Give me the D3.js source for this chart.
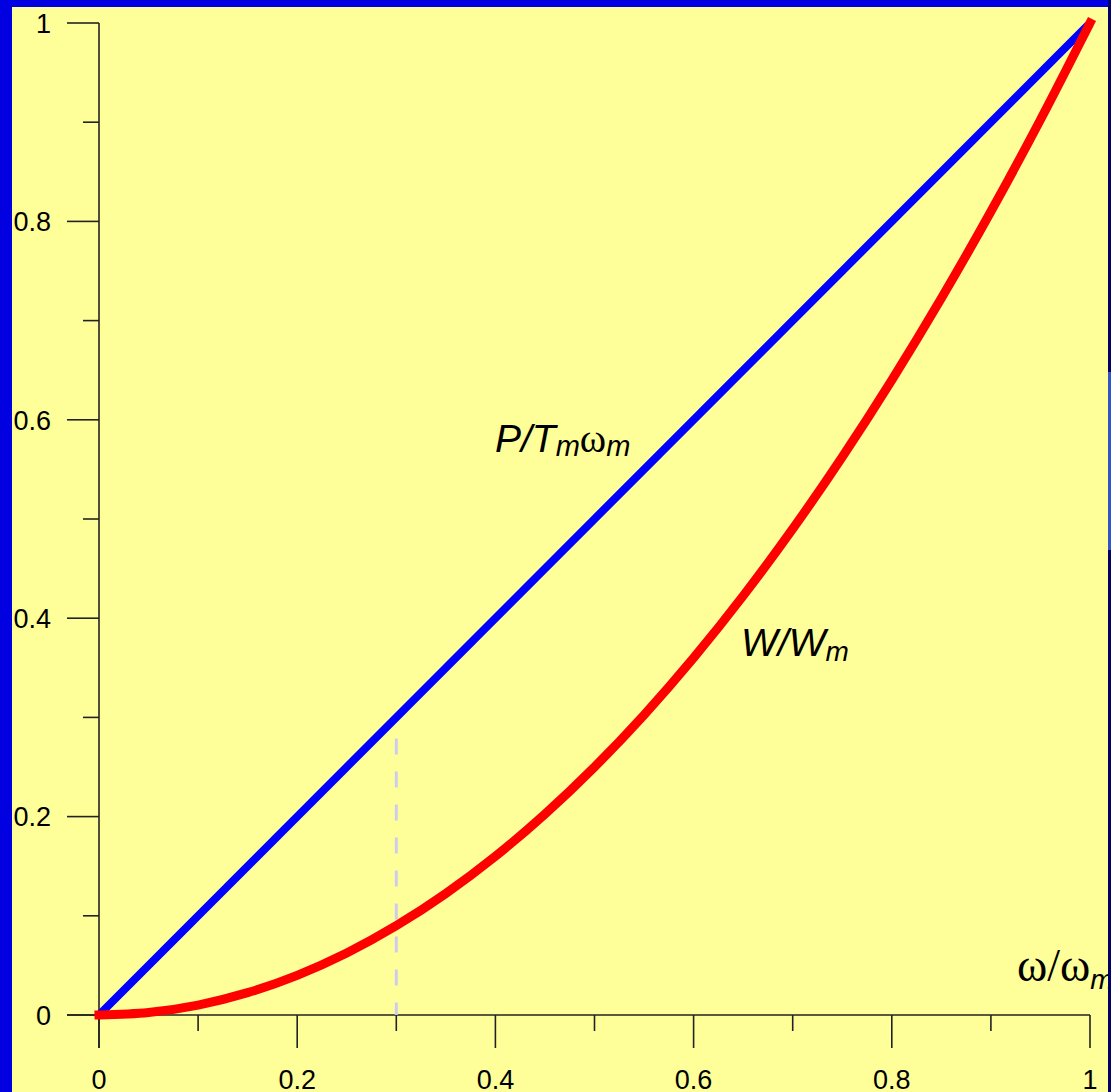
<!DOCTYPE html>
<html><head><meta charset="utf-8">
<script src="https://cdn.jsdelivr.net/npm/d3@7"></script>
<style>body{margin:0;background:#ffff99;overflow:hidden}svg{display:block}</style>
</head><body>
<script>
const xTicks = [0, 0.2, 0.4, 0.6, 0.8, 1];
const yTicks = [0, 0.2, 0.4, 0.6, 0.8, 1];
const minorTicks = [0.1, 0.3, 0.5, 0.7, 0.9];
const tickLabels = ["0", "0.2", "0.4", "0.6", "0.8", "1"];
const powerX = [0, 1];
const powerY = [0, 1];
const energyX = [0, 0.05, 0.1, 0.15, 0.2, 0.25, 0.3, 0.35, 0.4, 0.45, 0.5, 0.55, 0.6, 0.65, 0.7, 0.75, 0.8, 0.85, 0.9, 0.95, 1];
const energyY = [0, 0.0025, 0.01, 0.0225, 0.04, 0.0625, 0.09, 0.1225, 0.16, 0.2025, 0.25, 0.3025, 0.36, 0.4225, 0.49, 0.5625, 0.64, 0.7225, 0.81, 0.9025, 1];
const markerX = 0.3;

const W = 1111, H = 1092;
const svg = d3.select("body").append("svg").attr("width", W).attr("height", H);
svg.append("rect").attr("width", W).attr("height", H).attr("fill", "#ffff99");

const x = d3.scaleLinear().domain([0, 1]).range([99, 1090]);
const y = d3.scaleLinear().domain([0, 1]).range([1015, 23]);

// axes
const ax = svg.append("g").attr("stroke", "#222").attr("stroke-width", 1.6);
ax.append("line").attr("x1", x(0)).attr("x2", x(0)).attr("y1", y(1)).attr("y2", y(0) + 33);
ax.append("line").attr("x1", x(0) - 32).attr("x2", x(1)).attr("y1", y(0)).attr("y2", y(0));
yTicks.forEach(v => ax.append("line").attr("x1", x(0) - 32).attr("x2", x(0)).attr("y1", y(v)).attr("y2", y(v)));
minorTicks.forEach(v => ax.append("line").attr("x1", x(0) - 16).attr("x2", x(0)).attr("y1", y(v)).attr("y2", y(v)));
xTicks.forEach(v => ax.append("line").attr("x1", x(v)).attr("x2", x(v)).attr("y1", y(0)).attr("y2", y(0) + 33));
minorTicks.forEach(v => ax.append("line").attr("x1", x(v)).attr("x2", x(v)).attr("y1", y(0)).attr("y2", y(0) + 16));

const lab = svg.append("g").attr("font-family", "Liberation Sans, Arial, sans-serif").attr("font-size", 27).attr("fill", "#000");
yTicks.forEach((v, i) => lab.append("text").attr("x", 51).attr("y", y(v)).attr("dy", "0.36em").attr("text-anchor", "end").text(tickLabels[i]));
xTicks.forEach((v, i) => lab.append("text").attr("x", x(v)).attr("y", 1089).attr("text-anchor", "middle").text(tickLabels[i]));

// dashed marker
const mk = svg.append("g").attr("stroke", "#ccccee").attr("stroke-width", 3);
mk.append("line").attr("x1", x(markerX)).attr("x2", x(markerX)).attr("y1", y(markerX) + 2).attr("y2", y(markerX) + 4);
mk.append("line").attr("x1", x(markerX)).attr("x2", x(markerX)).attr("y1", y(markerX) + 21).attr("y2", y(0))
  .attr("stroke-dasharray", "16 17");

const line = d3.line().x(d => x(d[0])).y(d => y(d[1]));
svg.append("path").datum(powerX.map((v, i) => [v, powerY[i]])).attr("d", line)
  .attr("fill", "none").attr("stroke", "#0000ff").attr("stroke-width", 8);
svg.append("path").datum(energyX.map((v, i) => [v, energyY[i]])).attr("d", d3.line().x(d => x(d[0])).y(d => y(d[1])).curve(d3.curveMonotoneX))
  .attr("fill", "none").attr("stroke", "#ff0000").attr("stroke-width", 9).attr("stroke-linecap", "square");

// annotations
const t1 = svg.append("text").attr("x", 495).attr("y", 452).attr("font-family", "Liberation Sans, Arial, sans-serif").attr("font-style", "italic").attr("font-size", 39);
t1.append("tspan").text("P/T");
t1.append("tspan").attr("font-size", 29).attr("dy", 4).text("m");
t1.append("tspan").attr("font-style", "normal").attr("font-family", "Liberation Serif, Times New Roman, serif").attr("font-size", 40).attr("dy", -4).text("ω");
t1.append("tspan").attr("font-size", 29).attr("dy", 4).text("m");

const t2 = svg.append("text").attr("x", 741).attr("y", 656).attr("font-family", "Liberation Sans, Arial, sans-serif").attr("font-style", "italic").attr("font-size", 39);
t2.append("tspan").text("W/W");
t2.append("tspan").attr("font-size", 28).attr("dy", 5).text("m");

const t3 = svg.append("text").attr("x", 1017).attr("y", 981).attr("font-family", "Liberation Serif, Times New Roman, serif").attr("font-size", 46);
t3.append("tspan").text("ω/ω");
t3.append("tspan").attr("font-family", "Liberation Sans, Arial, sans-serif").attr("font-style", "italic").attr("font-size", 28).attr("dy", 8).text("m");

// frame borders
svg.append("rect").attr("x", 0).attr("y", 0).attr("width", 12).attr("height", H).attr("fill", "#0000e0");
svg.append("rect").attr("x", 0).attr("y", 0).attr("width", W).attr("height", 7).attr("fill", "#0000e0");
svg.append("rect").attr("x", 1108).attr("y", 0).attr("width", 3).attr("height", H).attr("fill", "#000066");
svg.append("rect").attr("x", 1108).attr("y", 372).attr("width", 3).attr("height", 178).attr("fill", "#3355cc");
</script>
</body></html>
